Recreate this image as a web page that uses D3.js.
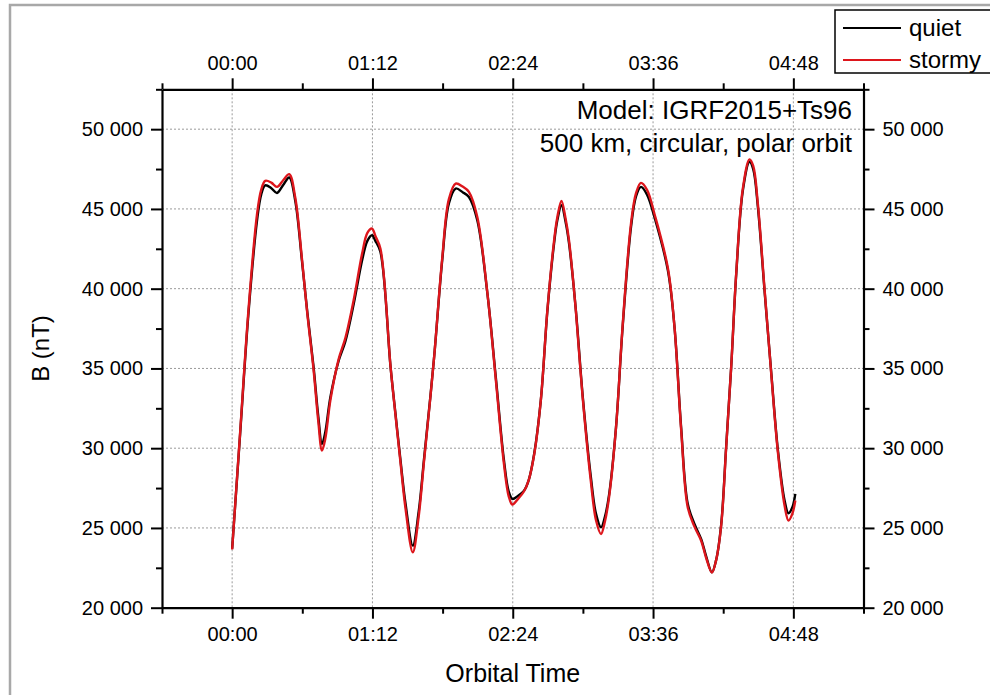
<!DOCTYPE html>
<meta charset="utf-8">
<script src="https://d3js.org/d3.v7.min.js"></script>
<style>
  body { margin: 0; background: #fff; }
  text { font-family: "Liberation Sans", Arial, sans-serif; fill: #000; }
</style>
<div id="chart"></div>
<script>
// orbital time in minutes since start
const times = [
  0, 4.1, 8.4, 12.7, 14.9, 17.0, 20.1, 23.0, 26.2, 29.3,
  32.4, 35.8, 38.6, 41.8, 44.2, 46.1, 47.8, 50.4, 54.7, 58.1,
  62.4, 66.7, 69.4, 71.8, 73.5, 76.1, 81.3, 83.8, 86.4, 89.0,
  92.7, 95.7, 98.4, 103.5, 107.8, 111.2, 114.7, 118.3, 121.5, 125.8,
  131.0, 135.3, 139.5, 141.9, 143.8, 146.6, 149.8, 152.2, 155.0, 158.4,
  161.8, 165.2, 166.9, 169.0, 171.1, 172.9, 176.4, 179.8, 184.1, 186.7,
  189.3, 191.3, 193.5, 197.0, 200.4, 204.7, 207.3, 209.8, 212.9, 216.7,
  223.6, 227.0, 230.4, 233.8, 237.2, 240.7, 243.3, 246.2, 248.4, 251.0,
  253.5, 256.1, 258.7, 262.1, 265.5, 267.4, 269.8, 273.2, 276.7, 280.1,
  283.5, 285.5, 287.5, 289.0
];

// B (nT), quiet conditions
const quiet = [
  23700, 30900, 38500, 44200, 45900, 46480, 46300, 46000, 46500, 46970,
  45500, 41780, 38500, 35080, 32000, 30270, 31000, 33200, 35500, 36700,
  39060, 41780, 43000, 43350, 43000, 42300, 35080, 32180, 29230, 26500,
  23890, 26000, 29230, 35500, 41780, 45330, 46280, 46050, 45750, 44290,
  39690, 34450, 29230, 27300, 26820, 27000, 27340, 28000, 29650, 33000,
  38640, 42830, 44300, 45230, 44200, 42830, 38640, 33410, 28180, 25900,
  25040, 25700, 27140, 31320, 37600, 43870, 45800, 46380, 45900, 44500,
  41150, 37600, 31320, 26510, 25260, 24300, 23200, 22220, 23000, 25260,
  30060, 35080, 40940, 46170, 47950, 47500, 45120, 39900, 34670, 29850,
  26720, 25920, 26300, 27140
];

// B (nT), stormy conditions
const stormy = [
  23650, 31000, 38700, 44600, 46200, 46760, 46650, 46380, 46800, 47180,
  45700, 41900, 38400, 34900, 31700, 29850, 30600, 33000, 35600, 36900,
  39300, 42200, 43500, 43770, 43300, 42500, 35100, 32100, 29100, 26200,
  23470, 25700, 29100, 35500, 41900, 45600, 46590, 46400, 46070, 44500,
  39700, 34300, 29000, 27000, 26470, 26800, 27300, 28000, 29600, 33000,
  38700, 43000, 44500, 45500, 44400, 43000, 38600, 33300, 27900, 25500,
  24620, 25400, 27000, 31300, 37700, 44100, 46000, 46630, 46200, 44700,
  41300, 37600, 31200, 26300, 25100, 24200, 23100, 22200, 23000, 25200,
  30000, 35100, 41000, 46300, 48100, 47700, 45300, 40000, 34600, 29700,
  26400, 25460, 25900, 26720
];

const xTicks = [0, 72, 144, 216, 288];
const xMinor = [-36, 36, 108, 180, 252, 324];
const yTicks = [20000, 25000, 30000, 35000, 40000, 45000, 50000];
const yMinor = [22500, 27500, 32500, 37500, 42500, 47500, 52500];

const series = [
  { name: "quiet", values: quiet, color: "#000000" },
  { name: "stormy", values: stormy, color: "#dd161c" }
];

const width = 990, height = 695;
const margin = { top: 89.3, right: 126.5, bottom: 87.3, left: 162 };
const iw = width - margin.left - margin.right;
const ih = height - margin.top - margin.bottom;

const svg = d3.select("#chart").append("svg")
  .attr("width", width)
  .attr("height", height);

// outer frame of the figure
svg.append("rect")
  .attr("x", 10).attr("y", 5)
  .attr("width", 1000).attr("height", 700)
  .attr("fill", "none")
  .attr("stroke", "#a8a8a8")
  .attr("stroke-width", 2.5);

const g = svg.append("g").attr("transform", `translate(${margin.left},${margin.top})`);

const x = d3.scaleLinear().domain([-36, 324]).range([0, iw]);
const y = d3.scaleLinear().domain([20000, 52500]).range([ih, 0]);

const fmtTime = m => d3.format("02d")(Math.floor(m / 60)) + ":" + d3.format("02d")(m % 60);
const fmtB = v => d3.format(",")(v).replace(",", " ");

// grid
g.append("g").selectAll("line").data(xTicks).join("line")
  .attr("x1", d => x(d)).attr("x2", d => x(d))
  .attr("y1", 0).attr("y2", ih)
  .attr("stroke", "#9a9a9a").attr("stroke-width", 1).attr("stroke-dasharray", "2,2");
g.append("g").selectAll("line").data(yTicks.slice(1)).join("line")
  .attr("x1", 0).attr("x2", iw)
  .attr("y1", d => y(d)).attr("y2", d => y(d))
  .attr("stroke", "#9a9a9a").attr("stroke-width", 1).attr("stroke-dasharray", "2,2");

// lines
const line = d3.line()
  .x((d, i) => x(times[i]))
  .y(d => y(d))
  .curve(d3.curveCatmullRom.alpha(0.5));

g.selectAll(".series").data(series).join("path")
  .attr("class", "series")
  .attr("d", d => line(d.values))
  .attr("fill", "none")
  .attr("stroke", d => d.color)
  .attr("stroke-width", 2.4)
  .attr("stroke-linejoin", "round");

// axes
function styleAxis(sel) {
  sel.select(".domain").attr("stroke-width", 2.2);
  sel.selectAll(".tick line").attr("stroke-width", 2);
  sel.selectAll(".tick text").style("font-size", "20px").style("font-family", "Liberation Sans, Arial, sans-serif");
}
function minorAxis(axis) {
  return axis.tickSize(6).tickFormat("");
}

const axes = [
  { gen: d3.axisBottom(x), minor: d3.axisBottom(x), ticks: xTicks, mticks: xMinor, t: `translate(0,${ih})`, fmt: fmtTime },
  { gen: d3.axisTop(x), minor: d3.axisTop(x), ticks: xTicks, mticks: xMinor, t: "translate(0,0)", fmt: fmtTime },
  { gen: d3.axisLeft(y), minor: d3.axisLeft(y), ticks: yTicks, mticks: yMinor, t: "translate(0,0)", fmt: fmtB },
  { gen: d3.axisRight(y), minor: d3.axisRight(y), ticks: yTicks, mticks: yMinor, t: `translate(${iw},0)`, fmt: fmtB }
];

axes.forEach(a => {
  g.append("g").attr("transform", a.t)
    .call(minorAxis(a.minor.tickValues(a.mticks)))
    .call(s => s.select(".domain").remove())
    .call(s => s.selectAll(".tick line").attr("stroke-width", 2));
  g.append("g").attr("transform", a.t)
    .call(a.gen.tickValues(a.ticks).tickFormat(a.fmt).tickSize(11).tickPadding(8).tickSizeOuter(0))
    .call(styleAxis);
});

// axis titles
svg.append("text")
  .attr("x", margin.left + iw / 2).attr("y", 682)
  .attr("text-anchor", "middle")
  .style("font-size", "25px")
  .text("Orbital Time");

svg.append("text")
  .attr("transform", `translate(49,${margin.top + ih / 2}) rotate(-90)`)
  .attr("text-anchor", "middle")
  .style("font-size", "24px")
  .text("B (nT)");

// annotation
const notes = ["Model: IGRF2015+Ts96", "500 km, circular, polar orbit"];
svg.selectAll(".note").data(notes).join("text")
  .attr("class", "note")
  .attr("x", 852)
  .attr("y", (d, i) => 119 + i * 33)
  .attr("text-anchor", "end")
  .style("font-size", "26px")
  .text(d => d);

// legend
const legend = svg.append("g");
legend.append("rect")
  .attr("x", 835).attr("y", 10)
  .attr("width", 170).attr("height", 63)
  .attr("fill", "#fff").attr("stroke", "#000").attr("stroke-width", 1.5);
const li = legend.selectAll(".li").data(series).join("g")
  .attr("class", "li")
  .attr("transform", (d, i) => `translate(0,${28 + i * 32})`);
li.append("line")
  .attr("x1", 843).attr("x2", 901)
  .attr("stroke", d => d.color).attr("stroke-width", 2.2);
li.append("text")
  .attr("x", 909).attr("y", 8)
  .style("font-size", "24px")
  .text(d => d.name);
</script>
